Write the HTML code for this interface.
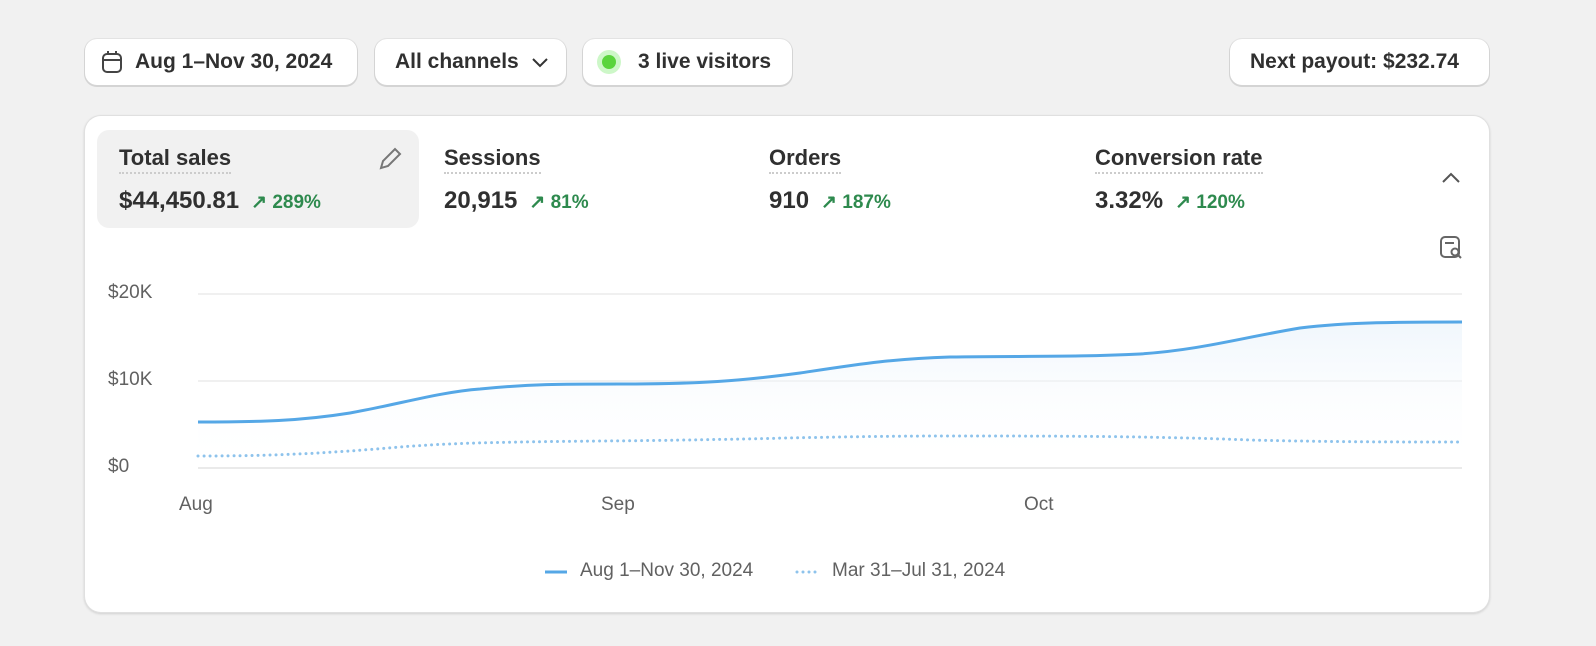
<!DOCTYPE html>
<html><head><meta charset="utf-8"><style>
body{margin:0;width:1596px;height:646px;background:#f1f1f1;font-family:"Liberation Sans",sans-serif;color:#303030;position:relative;overflow:hidden}
.btn{position:absolute;top:39px;height:46px;background:#fff;border-radius:12px;box-shadow:0 1px 0 1px #d4d4d4,0 0 0 1px #e3e3e3;font-size:21px;font-weight:bold;display:flex;align-items:center;box-sizing:border-box;white-space:nowrap}
.card{position:absolute;left:85px;top:116px;width:1404px;height:496px;background:#fff;border-radius:16px;box-shadow:0 0 0 1px #e0e0e0,0 1px 2px 1px #d0d0d0}
.m{position:absolute;top:130px;height:98px}
.t{position:absolute;font-size:22px;font-weight:bold;top:15px;border-bottom:2px dotted #ccc;padding-bottom:1px;white-space:nowrap}
.v{position:absolute;top:57px;font-size:24px;font-weight:bold;white-space:nowrap}
.v span{color:#2e8a4e;font-size:19px;margin-left:12px}
.ax{position:absolute;font-size:19px;color:#616161;white-space:nowrap}
</style></head><body>
<div class="btn" style="left:85px;width:272px;padding-left:16px"><svg width="22" height="24" viewBox="0 0 22 24"><rect x="2" y="4" width="18" height="18" rx="4" fill="none" stroke="#444" stroke-width="2"/><line x1="2" y1="10" x2="20" y2="10" stroke="#444" stroke-width="2"/><line x1="7" y1="1" x2="7" y2="5" stroke="#444" stroke-width="2"/><line x1="15" y1="1" x2="15" y2="5" stroke="#444" stroke-width="2"/></svg><span style="margin-left:12px">Aug 1–Nov 30, 2024</span></div>
<div class="btn" style="left:375px;width:191px;padding-left:20px">All channels<svg style="margin-left:12px" width="18" height="12"><path d="M2 3l7 7 7-7" fill="none" stroke="#333" stroke-width="2"/></svg></div>
<div class="btn" style="left:583px;width:209px;padding-left:19px"><span style="display:inline-block;width:14px;height:14px;border-radius:50%;background:#5ad43d;box-shadow:0 0 0 5px #cdf7c8"></span><span style="margin-left:22px">3 live visitors</span></div>
<div class="btn" style="left:1230px;width:259px;padding-left:20px">Next payout: $232.74</div>
<div class="card"></div>
<div class="m" style="left:97px;width:322px;background:#f1f1f1;border-radius:12px"><div class="t" style="left:22px">Total sales</div><div class="v" style="left:22px">$44,450.81<span>↗ 289%</span></div>
<svg style="position:absolute;left:280px;top:16px" width="26" height="26"><path d="M4 22l2-7 12-12 5 5-12 12z" fill="none" stroke="#777" stroke-width="2"/></svg></div>
<div class="m" style="left:444px;width:300px"><div class="t" style="left:0">Sessions</div><div class="v" style="left:0">20,915<span>↗ 81%</span></div></div>
<div class="m" style="left:769px;width:300px"><div class="t" style="left:0">Orders</div><div class="v" style="left:0">910<span>↗ 187%</span></div></div>
<div class="m" style="left:1095px;width:300px"><div class="t" style="left:0">Conversion rate</div><div class="v" style="left:0">3.32%<span>↗ 120%</span></div></div>
<svg style="position:absolute;left:1440px;top:170px" width="22" height="16"><path d="M3 12l8-8 8 8" fill="none" stroke="#555" stroke-width="2"/></svg>
<svg style="position:absolute;left:1439px;top:235px" width="26" height="26"><rect x="2" y="2" width="18" height="20" rx="4" fill="none" stroke="#666" stroke-width="2"/><line x1="6" y1="8" x2="15" y2="8" stroke="#666" stroke-width="2"/><circle cx="16" cy="17" r="3.5" fill="#fff" stroke="#666" stroke-width="2"/><line x1="19" y1="20" x2="22" y2="23" stroke="#666" stroke-width="2"/></svg>
<div class="ax" style="left:108px;top:282px">$20K</div>
<div class="ax" style="left:108px;top:369px">$10K</div>
<div class="ax" style="left:108px;top:456px">$0</div>
<div class="ax" style="left:179px;top:494px">Aug</div>
<div class="ax" style="left:601px;top:494px">Sep</div>
<div class="ax" style="left:1024px;top:494px">Oct</div>
<svg style="position:absolute;left:0;top:0" width="1596" height="646">
<defs><linearGradient id="g" x1="0" y1="0" x2="0" y2="1"><stop offset="0" stop-color="#eaf3fb" stop-opacity=".7"/><stop offset="1" stop-color="#fff" stop-opacity="0"/></linearGradient></defs>
<line x1="198" y1="294" x2="1462" y2="294" stroke="#ebebeb" stroke-width="1.5"/>
<line x1="198" y1="381" x2="1462" y2="381" stroke="#ebebeb" stroke-width="1.5"/>
<line x1="198" y1="468" x2="1462" y2="468" stroke="#e3e3e3" stroke-width="1.5"/>
<path d="M198 422 C260 422 300 421 350 413 C400 404 440 392 480 389 C530 384 560 384 620 384 C700 384 740 381 800 373 C860 364 890 359 950 357 C1030 356 1080 357 1140 354 C1200 350 1240 338 1300 328 C1350 322 1400 322 1462 322 L1462 468 L198 468 Z" fill="url(#g)"/>
<path d="M198 422 C260 422 300 421 350 413 C400 404 440 392 480 389 C530 384 560 384 620 384 C700 384 740 381 800 373 C860 364 890 359 950 357 C1030 356 1080 357 1140 354 C1200 350 1240 338 1300 328 C1350 322 1400 322 1462 322" fill="none" stroke="#55a7e6" stroke-width="3"/>
<path d="M198 456 C280 456 330 453 400 447 C450 443 500 442 600 441 C750 440 820 436 950 436 C1050 436 1150 436 1250 440 C1330 442 1400 442 1462 442" fill="none" stroke="#8ec3ec" stroke-width="3" stroke-dasharray="0 6" stroke-linecap="round"/>
<line x1="545" y1="572" x2="567" y2="572" stroke="#55a7e6" stroke-width="3"/>
<line x1="797" y1="572" x2="820" y2="572" stroke="#8ec3ec" stroke-width="3" stroke-dasharray="0 6" stroke-linecap="round"/>
</svg>
<div class="ax" style="left:580px;top:560px">Aug 1–Nov 30, 2024</div>
<div class="ax" style="left:832px;top:560px">Mar 31–Jul 31, 2024</div>
</body></html>
